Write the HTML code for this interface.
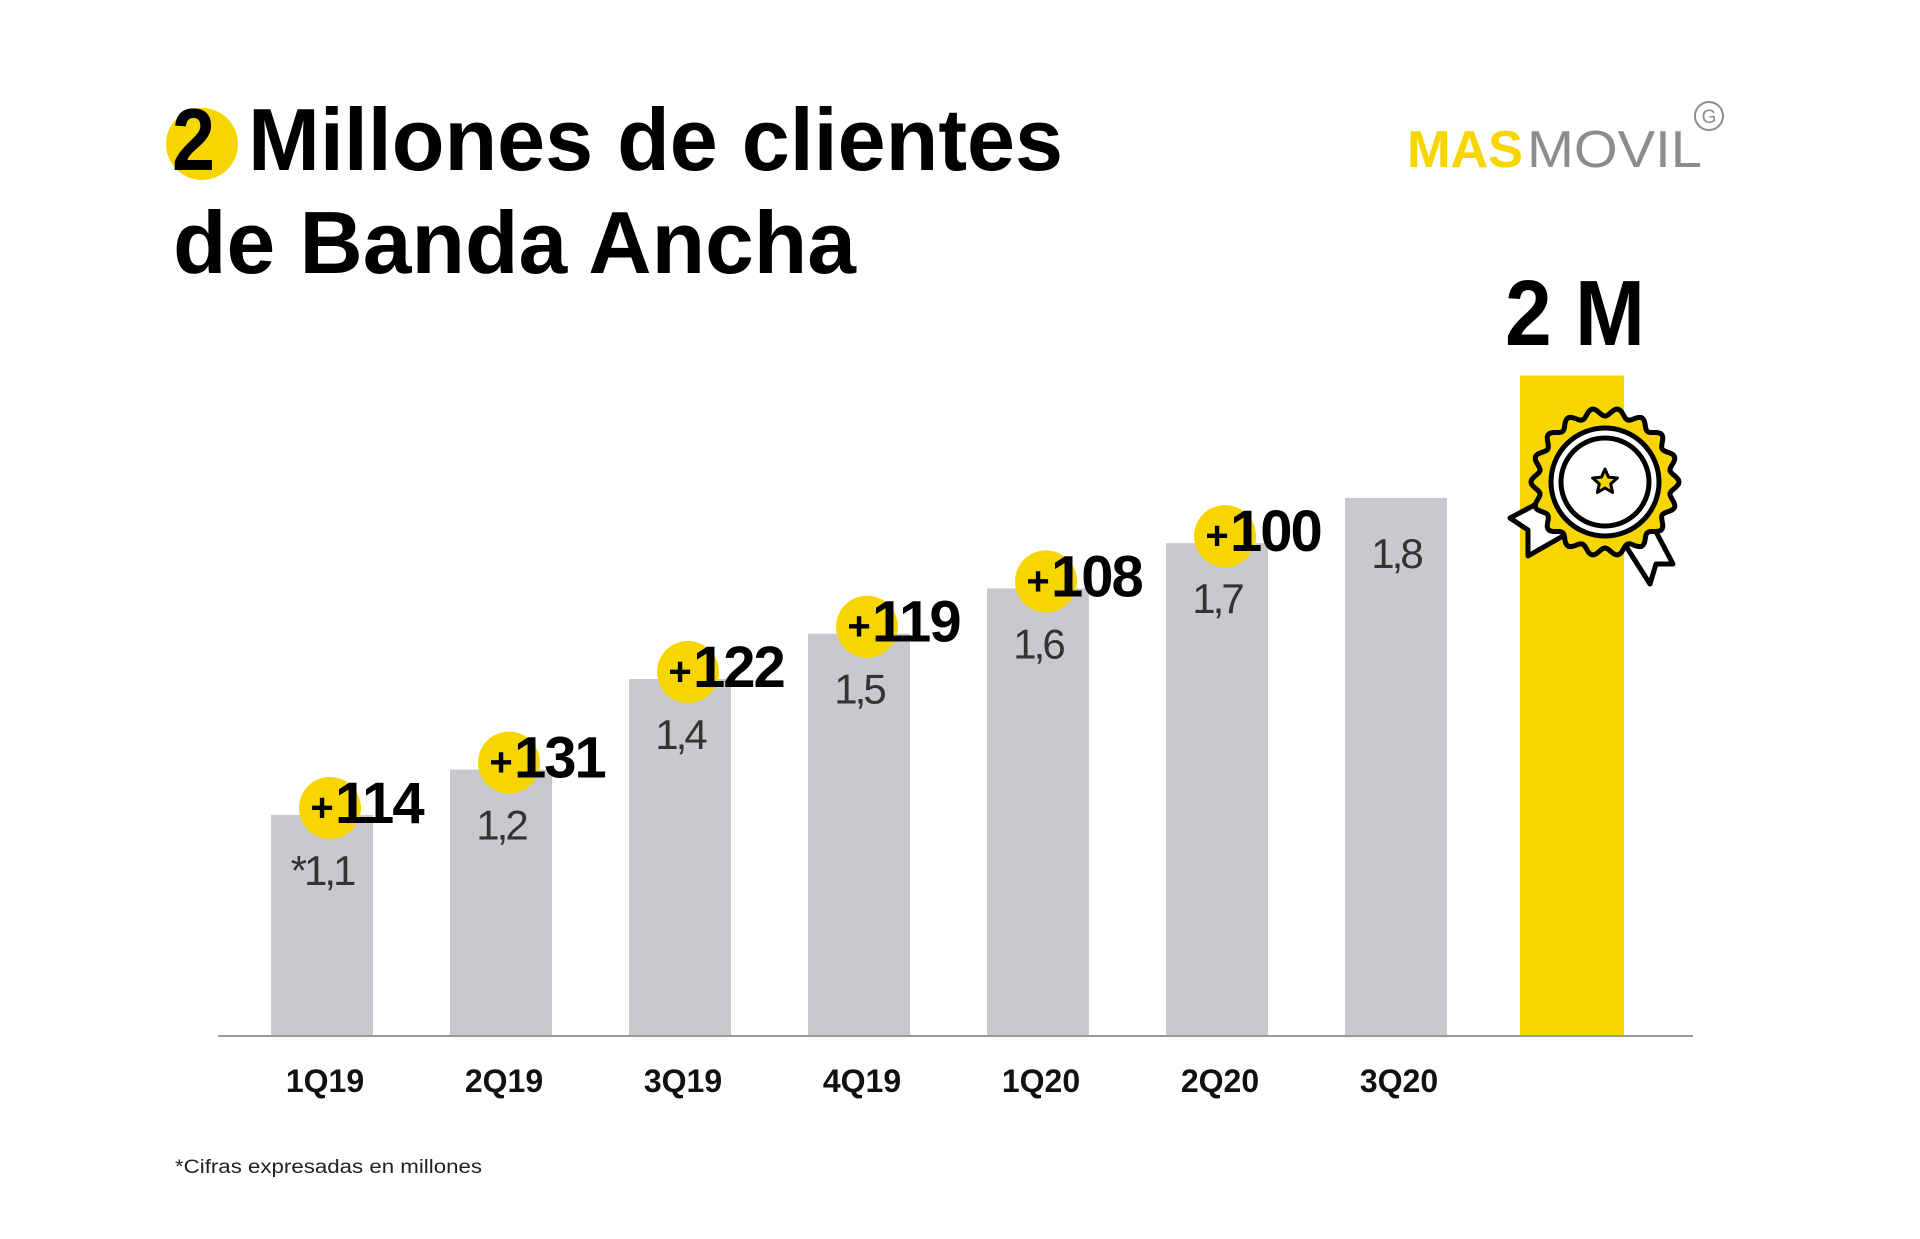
<!DOCTYPE html>
<html><head><meta charset="utf-8"><style>
html,body{margin:0;padding:0;background:#fff;}
svg{display:block;}
text{font-family:"Liberation Sans",sans-serif;}
</style></head><body>
<svg id="chart" width="1920" height="1239" viewBox="0 0 1920 1239" xmlns="http://www.w3.org/2000/svg">
<rect width="1920" height="1239" fill="#fff"/>
<g>
  <circle cx="202" cy="144" r="36" fill="#f7d600"/>
  <text x="172" y="170" font-size="88" font-weight="bold" fill="#000" textLength="43" lengthAdjust="spacingAndGlyphs">2</text>
  <text x="248" y="170" font-size="88" font-weight="bold" fill="#000" textLength="815" lengthAdjust="spacingAndGlyphs">Millones de clientes</text>
  <text x="173" y="273" font-size="88" font-weight="bold" fill="#000" textLength="683" lengthAdjust="spacingAndGlyphs">de Banda Ancha</text>
</g>
<g>
  <text x="1407" y="167" font-size="52" font-weight="bold" fill="#f7d600" textLength="116" lengthAdjust="spacingAndGlyphs">MAS</text>
  <text x="1527" y="167" font-size="52" fill="#8c8c8c" textLength="175" lengthAdjust="spacingAndGlyphs">MOVIL</text>
  <circle cx="1709" cy="116" r="14" fill="none" stroke="#8c8c8c" stroke-width="2"/>
  <text x="1709" y="123" font-size="19" fill="#8c8c8c" text-anchor="middle">G</text>
</g>
<g id="plot"></g>
<text x="1505" y="345" font-size="93" font-weight="bold" fill="#000" textLength="140" lengthAdjust="spacingAndGlyphs">2 M</text>
<g id="medal"></g>
<text x="175" y="1173" font-size="19" fill="#222" textLength="307" lengthAdjust="spacingAndGlyphs">*Cifras expresadas en millones</text>
</svg>
<script>
const categories = ["1Q19","2Q19","3Q19","4Q19","1Q20","2Q20","3Q20"];
const totals = [1.1,1.2,1.4,1.5,1.6,1.7,1.8];
const totalLabels = ["*1,1","1,2","1,4","1,5","1,6","1,7","1,8"];
const netAdds = ["+114","+131","+122","+119","+108","+100",null];
const highlightValue = [2.07];

const NS = "http://www.w3.org/2000/svg";
const baseY = 1036, v0 = 0.612, pxPerUnit = 453;
const firstX = 271, step = 179, barW = 102;
function yScale(v){ return baseY - (v - v0) * pxPerUnit; }
function xScale(i){ return firstX + i * step; }
function mk(tag, attrs, parent){
  const e = document.createElementNS(NS, tag);
  for (const k in attrs) e.setAttribute(k, attrs[k]);
  parent.appendChild(e); return e;
}
const plot = document.getElementById('plot');

categories.forEach((c, i) => {
  const x = xScale(i), top = yScale(totals[i]), cx = x + barW/2;
  const bar = mk('rect', {x:x, y:top, width:barW, height:baseY-top, fill:'#c8c9cd'}, plot);
  
  
  const vl = mk('text', {x:cx, y:top+70, 'font-size':42, fill:'#333', 'text-anchor':'middle', 'letter-spacing':'-3'}, plot);
  vl.textContent = totalLabels[i];
  
  
  const cl = mk('text', {x:cx+3, y:1092, 'font-size':32, 'font-weight':'bold', fill:'#111', 'text-anchor':'middle'}, plot);
  cl.textContent = c;
  
  
  if (netAdds[i]) {
    const bx = cx + 8, by = top - 7;
    const circ = mk('circle', {cx:bx, cy:by, r:31, fill:'#f7d600'}, plot);
    
    
    const plus = mk('text', {x:bx-8, y:by+13, 'font-size':40, 'font-weight':'bold', fill:'#000', 'text-anchor':'middle'}, plot);
    plus.textContent = '+';
    
    
    const num = mk('text', {x:bx+5, y:by+15, 'font-size':58, 'font-weight':'bold', fill:'#000', 'letter-spacing':'-2'}, plot);
    num.textContent = netAdds[i].slice(1);
    
    
  }
});
const hTop = yScale(highlightValue[0]);
const hb = mk('rect', {x:1520, y:hTop, width:104, height:baseY-hTop, fill:'#f7d600'}, plot);


const axis = mk('line', {x1:218, y1:baseY, x2:1693, y2:baseY, stroke:'#999', 'stroke-width':2}, plot);



const medal = document.getElementById('medal');
const mcx = 1605, mcy = 482;
const rl = mk('polygon', {points:'1548,498 1510,518 1528,530 1528,556 1570,532', fill:'#fff', stroke:'#000', 'stroke-width':5, 'stroke-linejoin':'round'}, medal);


const rr = mk('polygon', {points:'1622,540 1650,584 1656,564 1673,564 1654,528', fill:'#fff', stroke:'#000', 'stroke-width':5, 'stroke-linejoin':'round'}, medal);


let d = '';
const N = 220;
for (let k = 0; k <= N; k++) {
  const a = k / N * Math.PI * 2;
  const r = 70 + 4 * Math.cos(a * 18);
  d += (k ? 'L' : 'M') + (mcx + r*Math.cos(a)).toFixed(1) + ',' + (mcy + r*Math.sin(a)).toFixed(1);
}
const wav = mk('path', {d:d+'Z', fill:'#f7d600', stroke:'#000', 'stroke-width':5}, medal);


const c1 = mk('circle', {cx:mcx, cy:mcy, r:54, fill:'#fff', stroke:'#000', 'stroke-width':5}, medal);


const c2 = mk('circle', {cx:mcx, cy:mcy, r:44, fill:'#fff', stroke:'#000', 'stroke-width':5}, medal);


let sp = '';
for (let k = 0; k < 10; k++) {
  const a = -Math.PI/2 + k * Math.PI / 5;
  const r = k % 2 ? 6 : 13;
  sp += (mcx + r*Math.cos(a)).toFixed(1) + ',' + (mcy + r*Math.sin(a)).toFixed(1) + ' ';
}
const star = mk('polygon', {points:sp, fill:'#f7d600', stroke:'#000', 'stroke-width':3, 'stroke-linejoin':'round'}, medal);


</script>
</body></html>
